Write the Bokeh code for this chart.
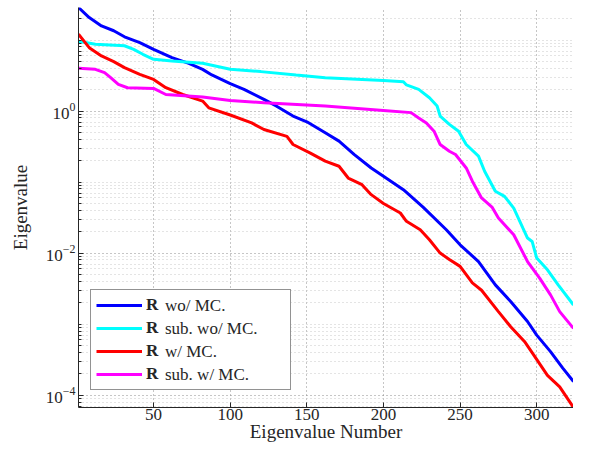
from bokeh.plotting import figure
from bokeh.models import Range1d, FixedTicker, Legend, LegendItem
from bokeh.embed import file_html
from bokeh.resources import INLINE

# ---- data ----
blue_n = [1, 8, 16, 24, 31, 41, 50, 62, 73, 82, 88, 100, 109, 122, 130, 141, 150, 162, 171, 181,
          192, 200, 213, 226, 241, 250, 262, 273, 283, 294, 300, 309, 317, 324]
blue_v = [28.7, 20.7, 15.8, 13.5, 11.1, 9.2, 7.4, 5.65, 4.7, 3.86, 3.22, 2.43, 2.02, 1.46, 1.18,
          0.85, 0.706, 0.494, 0.377, 0.244, 0.158, 0.121, 0.078, 0.044, 0.0213, 0.0131, 0.0076,
          0.00357, 0.00208, 0.00109, 0.0007, 0.00041, 0.00024, 0.000155]

cyan_n = [1, 12, 31, 37, 43, 50, 62, 82, 100, 120, 143, 162, 200, 213, 215, 223, 230, 235, 237,
          243, 249, 254, 262, 266, 273, 279, 285, 291, 294, 297, 300, 307, 314, 324]
cyan_v = [9.6, 8.7, 8.3, 7.4, 6.3, 5.35, 5.08, 4.7, 3.87, 3.59, 3.22, 2.95, 2.7, 2.59, 2.33, 2.02,
          1.54, 1.18, 0.85, 0.65, 0.52, 0.338, 0.232, 0.142, 0.0743, 0.063, 0.043, 0.0225, 0.0163,
          0.0146, 0.0085, 0.00582, 0.00357, 0.00186]

red_n = [1, 8, 16, 24, 31, 41, 50, 58, 69, 82, 86, 100, 114, 122, 137, 141, 152, 162, 171, 177,
         186, 192, 200, 211, 215, 224, 230, 237, 243, 250, 258, 264, 275, 283, 292, 298, 307, 315, 324]
red_v = [12.1, 7.8, 5.97, 4.97, 4.08, 3.29, 2.79, 2.13, 1.71, 1.38, 1.11, 0.88, 0.68, 0.55, 0.44,
         0.338, 0.258, 0.197, 0.167, 0.114, 0.092, 0.0665, 0.05, 0.0367, 0.028, 0.0213, 0.0154, 0.01,
         0.0081, 0.0065, 0.0038, 0.003, 0.0015, 0.00092, 0.00057, 0.00037, 0.00019, 0.000131, 6.7e-5]

mag_n = [1, 12, 18, 22, 27, 33, 50, 58, 82, 100, 122, 162, 200, 218, 223, 228, 233, 237, 243, 247,
         254, 258, 264, 271, 275, 285, 294, 302, 309, 315, 324]
mag_v = [4.0, 3.87, 3.47, 2.95, 2.37, 2.13, 2.08, 1.71, 1.58, 1.41, 1.31, 1.18, 1.02, 0.95, 0.80,
         0.68, 0.52, 0.338, 0.272, 0.244, 0.158, 0.103, 0.0597, 0.044, 0.0312, 0.0181, 0.0076,
         0.0044, 0.00258, 0.0015, 0.00087]

symbol = "R"
labels = ["wo/ MC.", "sub. wo/ MC.", "w/ MC.", "sub. w/ MC."]
colors = ["#0000FF", "#00FFFF", "#FF0000", "#FF00FF"]
x_ticks = [50, 100, 150, 200, 250, 300]
y_major = [1e-4, 1e-2, 1.0]

FONT = "Liberation Serif"
TXT = "#262626"

p = figure(width=573, height=444, y_axis_type="log",
           x_range=Range1d(1, 324), y_range=Range1d(6.7e-5, 28.7),
           output_backend="svg", toolbar_location=None,
           min_border_left=78, min_border_right=0, min_border_top=7, min_border_bottom=36)
p.outline_line_color = None
p.background_fill_color = "white"
p.border_fill_color = "white"

series = [(blue_n, blue_v), (cyan_n, cyan_v), (red_n, red_v), (mag_n, mag_v)]
renderers = []
for (xs, ys), c in zip(series, colors):
    r = p.line(xs, ys, line_color=c, line_width=3)
    renderers.append(r)

# invisible helper renderer for the text-only overlay legend
ghost = p.line([], [], line_alpha=0)

# axes
p.xaxis.ticker = FixedTicker(ticks=x_ticks, minor_ticks=[])
minor = []
for e in range(-5, 2):
    for k in range(1, 10):
        v = k * 10.0 ** e
        if v not in y_major:
            minor.append(v)
p.yaxis.ticker = FixedTicker(ticks=y_major, minor_ticks=minor)

for ax in (p.xaxis[0], p.yaxis[0]):
    ax.axis_line_color = TXT
    ax.axis_line_width = 1
    ax.major_tick_in = 5
    ax.major_tick_out = 0
    ax.minor_tick_in = 3
    ax.minor_tick_out = 0
    ax.major_tick_line_color = TXT
    ax.minor_tick_line_color = TXT
    ax.major_label_text_font = FONT
    ax.major_label_text_font_size = "17px"
    ax.major_label_text_color = TXT
    ax.axis_label_text_font = FONT
    ax.axis_label_text_font_size = "19px"
    ax.axis_label_text_font_style = "normal"
    ax.axis_label_text_color = TXT

p.xaxis.axis_label = "Eigenvalue Number"
p.yaxis.axis_label = "Eigenvalue"
p.xaxis.major_label_standoff = 1
p.yaxis.major_label_standoff = 3
p.xaxis.axis_label_standoff = -2
p.yaxis.axis_label_standoff = 12

p.xgrid.grid_line_color = "#8c8c8c"
p.xgrid.grid_line_dash = "1 3"
p.ygrid.grid_line_color = "#8c8c8c"
p.ygrid.grid_line_dash = "1 3"
p.ygrid.minor_grid_line_color = "#c8c8c8"
p.ygrid.minor_grid_line_dash = "1 3"

# legend: base legend with glyphs and bold symbol, overlay legend with the rest of the text
leg_loc, pad, gw, gh, sp = (12, 17), 5, 46, 20, 3
common = dict(location=leg_loc, orientation="vertical", glyph_width=gw, glyph_height=gh,
              spacing=sp, padding=pad, label_height=gh, margin=0,
              label_text_font=FONT, label_text_font_size="17px", label_text_color=TXT)

base_items = [LegendItem(label=symbol, renderers=[r]) for r in renderers]
legend_base = Legend(items=base_items, label_standoff=4, label_width=139,
                     label_text_font_style="bold",
                     border_line_color=TXT, border_line_width=1, background_fill_alpha=1.0,
                     **common)
p.add_layout(legend_base)

text_items = [LegendItem(label=lab, renderers=[ghost]) for lab in labels]
legend_text = Legend(items=text_items, label_standoff=24, label_width=119,
                     border_line_alpha=0, background_fill_alpha=0, **common)
p.add_layout(legend_text)

open("out.html", "w").write(file_html(p, INLINE))
